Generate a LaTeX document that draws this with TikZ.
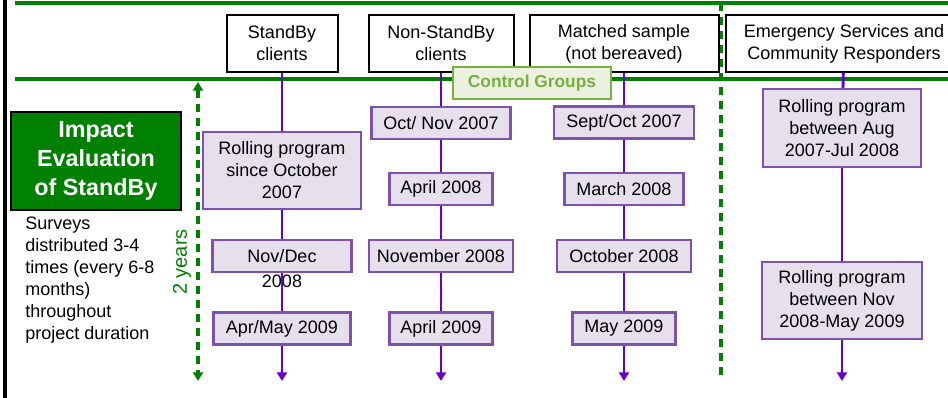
\documentclass[tikz,border=0pt]{standalone}
\usepackage{fontspec}
\setmainfont{Liberation Sans}
\usetikzlibrary{arrows.meta}

\definecolor{sgreen}{HTML}{008000}
\definecolor{lgreen}{HTML}{77B040}
\definecolor{lgfill}{HTML}{EBF1DE}
\definecolor{pline}{HTML}{6600CC}
\definecolor{pborder}{HTML}{8050B0}
\definecolor{pfill}{HTML}{E5E0EC}

\tikzset{
    hdr/.style={draw=black, line width=1.5pt, fill=white, align=center, minimum height=42.75pt, inner sep=1pt},
    pbox/.style={draw=pborder, line width=1.6pt, fill=pfill, align=center, minimum height=24pt, inner sep=1pt},
    tline/.style={pline, line width=2.2pt},
    tarrow/.style={tline, -{Triangle[width=7.5pt,length=6.5pt]}},
    gline/.style={sgreen, line width=3pt},
    gdash/.style={sgreen, line width=3pt, dash pattern=on 6pt off 4.5pt},
}

\begin{document}
\begin{tikzpicture}[x=0.75pt, y=-0.75pt, font=\fontsize{13.5}{16.5}\selectfont]
    \useasboundingbox (0,0) rectangle (948,398);
    \clip (0,0) rectangle (948,398);

    % frame and green rules
    \draw[black, line width=2.6pt] (5,0) -- (5,398);
    \draw[gline] (15,3) -- (948,3);
    \draw[gline] (15,79) -- (948,79);
    \draw[gdash] (721,3) -- (721,376);

    % group headers
    \node[hdr, minimum width=83.25pt] (sbHead) at (282,43.5) {StandBy\\clients};
    \node[hdr, minimum width=108.75pt] (nsbHead) at (441,43.5) {Non-StandBy\\clients};
    \node[hdr, minimum width=141.75pt] (msHead) at (624,43.5) {Matched sample\\(not bereaved)};
    \node[hdr, minimum width=177pt] (esHead) at (844,43.5) {Emergency Services and\\Community Responders};

    % StandBy clients
    \node[pbox, minimum width=118.5pt, minimum height=57.75pt] (sbA) at (282,170.5) {Rolling program\\since October\\2007};
    \node[pbox, minimum width=104.25pt] (sbB) at (282,256) {Nov/Dec};
    \node (sbBb) at (282,281) {2008};
    \node[pbox, minimum width=102.75pt] (sbC) at (282,328.5) {Apr/May 2009};
    \coordinate (sbEnd) at (282,381);

    % Non-StandBy clients
    \node[pbox, minimum width=104.25pt] (nsbA) at (441,123) {Oct/ Nov 2007};
    \node[pbox, minimum width=77.25pt] (nsbB) at (441,189) {April 2008};
    \node[pbox, minimum width=108pt] (nsbC) at (441,256) {November 2008};
    \node[pbox, minimum width=77.25pt] (nsbD) at (441,328.5) {April 2009};
    \coordinate (nsbEnd) at (441,381);

    % Matched sample
    \node[pbox, minimum width=105pt] (msA) at (624,122.5) {Sept/Oct 2007};
    \node[pbox, minimum width=89.25pt] (msB) at (624,189) {March 2008};
    \node[pbox, minimum width=100.5pt] (msC) at (624,256) {October 2008};
    \node[pbox, minimum width=77.25pt] (msD) at (624,328.5) {May 2009};
    \coordinate (msEnd) at (624,381);

    % Emergency Services and Community Responders
    \node[pbox, minimum width=118.5pt, minimum height=58.5pt] (esA) at (842,128) {Rolling program\\between Aug\\2007-Jul 2008};
    \node[pbox, minimum width=120pt, minimum height=57.75pt] (esB) at (842,300.5) {Rolling program\\between Nov\\2008-May 2009};
    \coordinate (esEnd) at (842,381);

    % timelines
    \draw[tline] (sbHead) -- (sbA);
    \draw[tline] (sbA) -- (sbB);
    \draw[tline] (sbB) -- (sbC);
    \draw[tarrow] (sbC) -- (sbEnd);
    \draw[tline] (nsbHead) -- (nsbA);
    \draw[tline] (nsbA) -- (nsbB);
    \draw[tline] (nsbB) -- (nsbC);
    \draw[tline] (nsbC) -- (nsbD);
    \draw[tarrow] (nsbD) -- (nsbEnd);
    \draw[tline] (msHead) -- (msA);
    \draw[tline] (msA) -- (msB);
    \draw[tline] (msB) -- (msC);
    \draw[tline] (msC) -- (msD);
    \draw[tarrow] (msD) -- (msEnd);
    \draw[tline] (esHead) -- (esA);
    \draw[tline] (esA) -- (esB);
    \draw[tarrow] (esB) -- (esEnd);

    % control groups label
    \node[draw=lgreen, line width=2.2pt, fill=lgfill, text=lgreen, font=\fontsize{13}{15}\selectfont\bfseries,
          minimum width=118.5pt, minimum height=24pt, inner sep=1pt] (ctrl) at (532,83) {Control Groups};

    % left panel
    \node[draw=black, line width=1.8pt, fill=sgreen, text=white, align=center,
          font=\fontsize{17.5}{21.75}\selectfont\bfseries,
          minimum width=127.5pt, minimum height=73.5pt] (impact) at (96,161) {Impact\\Evaluation\\of StandBy};
    \node[anchor=north west, inner sep=0pt, align=left] (surveys) at (25,217)
        {Surveys\\distributed 3-4\\times (every 6-8\\months)\\throughout\\project duration};

    % duration arrow
    \coordinate (durTop) at (198,82);
    \coordinate (durBot) at (198,381);
    \draw[gdash, {Triangle[width=7.5pt,length=6.5pt]}-{Triangle[width=7.5pt,length=6.5pt]}] (durTop) -- (durBot);
    \node[sgreen, rotate=90, font=\fontsize{15}{18}\selectfont] (dur) at (182,262) {2 years};
\end{tikzpicture}
\end{document}
